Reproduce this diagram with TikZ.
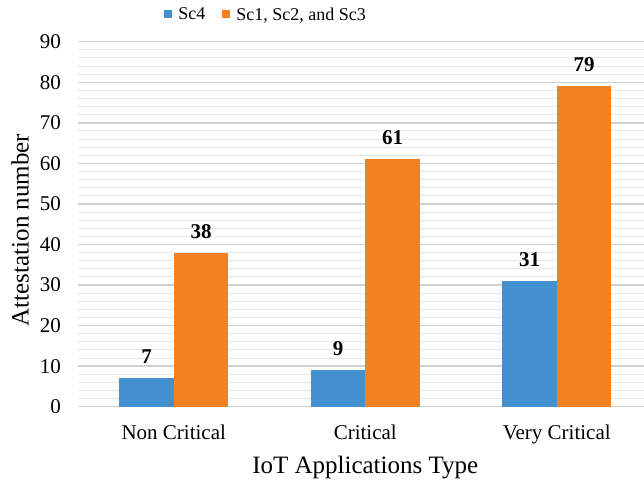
\documentclass[tikz,border=0pt]{standalone}
\usepackage{fontspec}
\setmainfont{Liberation Serif}
\usetikzlibrary{positioning}

\definecolor{scblue}{RGB}{66,144,208}
\definecolor{scorange}{RGB}{245,128,32}
\definecolor{gridmajor}{RGB}{208,208,208}
\definecolor{gridminor}{RGB}{230,230,230}

\tikzset{
  ticklabel/.style={anchor=east, inner sep=0pt, font=\fontsize{21}{21}\selectfont},
  catlabel/.style={anchor=base, inner sep=0pt, font=\fontsize{21}{21}\selectfont},
  vallabel/.style={anchor=base, inner sep=0pt, font=\fontsize{21}{21}\selectfont\bfseries},
  legsquare/.style={rectangle, inner sep=0pt, minimum size=8pt},
  legtext/.style={inner sep=0pt, text depth=0pt, font=\fontsize{18}{18}\selectfont}
}

\begin{document}
\begin{tikzpicture}[x=1pt, y=1pt]

\useasboundingbox (-78,-79.3) rectangle (566,406.7);

% gridlines
\foreach \v in {2,4,...,88}
  \draw[gridminor, line width=1pt] (0,\v*4.055) -- (566,\v*4.055);
\foreach \v in {0,10,...,90}
  \draw[gridmajor, line width=1.4pt] (0,\v*4.055) -- (566,\v*4.055);

% y ticks
\foreach \v in {0,10,...,90}
  \node (tick\v) [ticklabel] at (-17,\v*4.055) {\v};

% bars
\foreach \c/\a/\b [count=\i] in {95.75/7/38, 287.25/9/61, 478.75/31/79} {
  \fill[scblue] (\c-54.5,0) rectangle (\c,\a*4.055);
  \fill[scorange] (\c,0) rectangle (\c+54.5,\b*4.055);
  \node (sca\i) [vallabel] at (\c-27.25,\a*4.055+14.5) {\a};
  \node (scb\i) [vallabel] at (\c+27.25,\b*4.055+14.5) {\b};
}

% categories
\node (noncrit) [catlabel] at (95.75,-33.3) {Non Critical};
\node (crit) [catlabel] at (287.25,-33.3) {Critical};
\node (verycrit) [catlabel] at (478.75,-33.3) {Very Critical};

% axis titles
\node (xtitle) [anchor=base, inner sep=0pt, font=\fontsize{25}{25}\selectfont] at (287.25,-66.3) {IoT Applications Type};
\node (ytitle) [rotate=90, inner sep=0pt, font=\fontsize{25}{25}\selectfont] at (-58,176.7) {Attestation number};

% legend
\node (legsq1) [legsquare, fill=scblue] at (90,392.7) {};
\node (legtx1) [legtext, right=6pt of legsq1] {Sc4};
\node (legsq2) [legsquare, fill=scorange] at (148,392.7) {};
\node (legtx2) [legtext, right=6pt of legsq2] {Sc1, Sc2, and Sc3};

\end{tikzpicture}
\end{document}
